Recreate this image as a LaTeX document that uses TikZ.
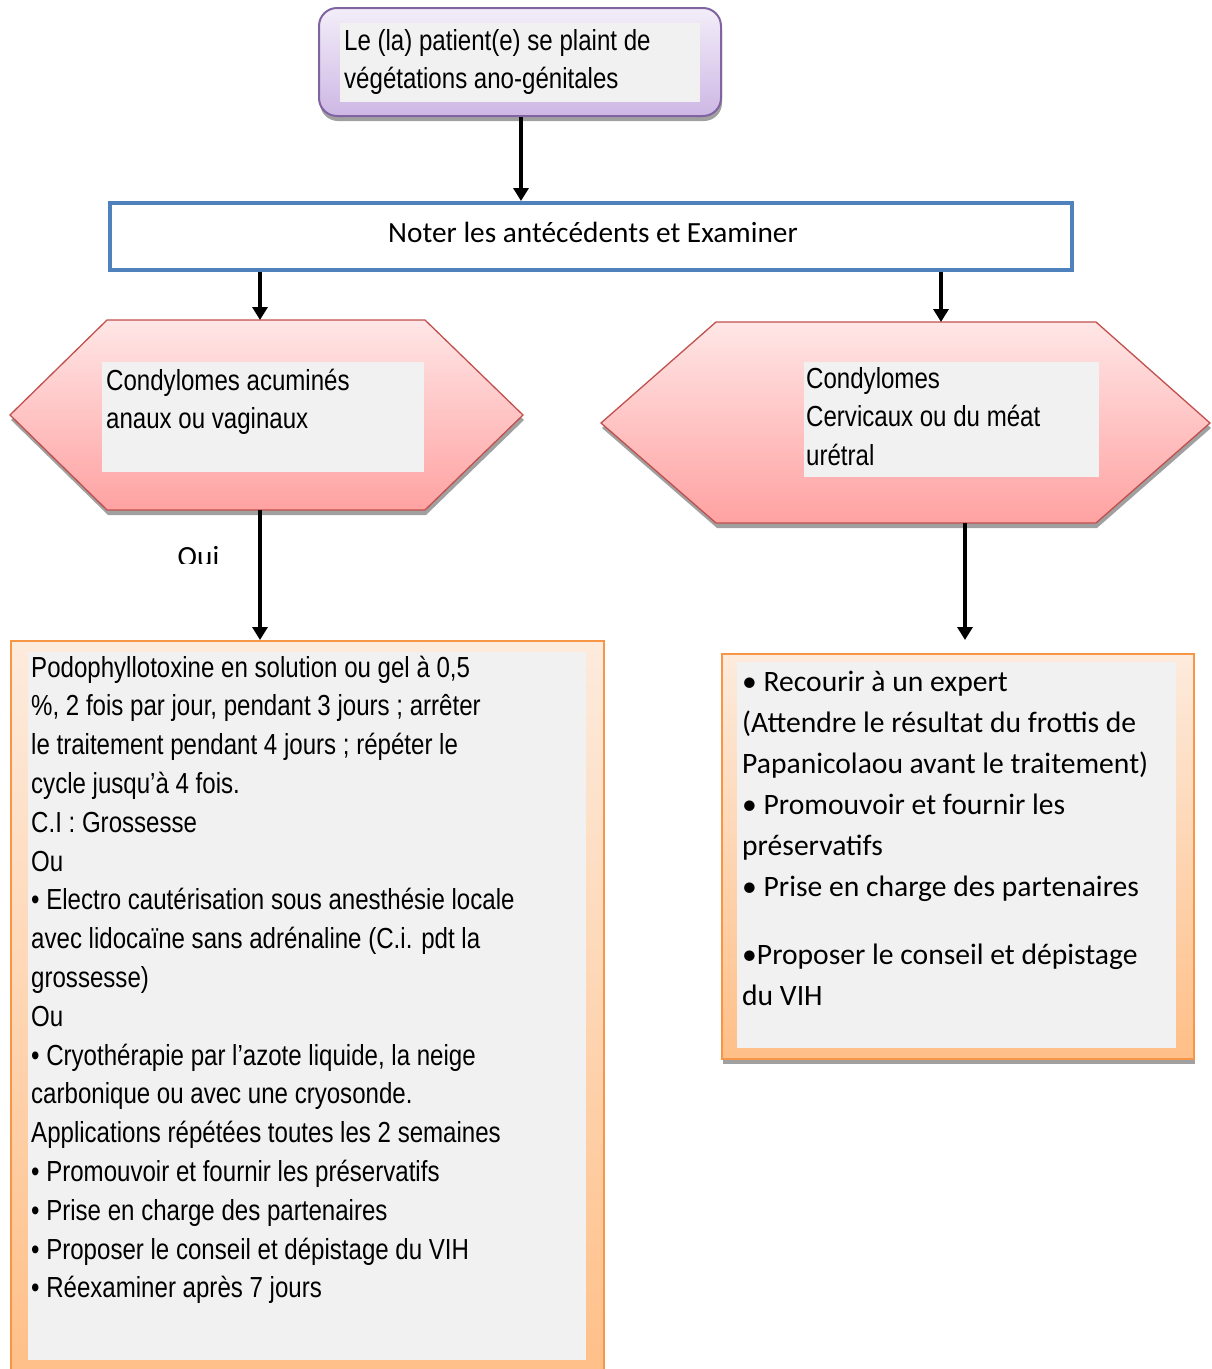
\documentclass[tikz,border=0pt]{standalone}
\usepackage{fontspec}
\setmainfont{Liberation Sans}
\newfontfamily\narrowfont[FakeStretch=0.83]{Liberation Sans}
\newfontfamily\calibrifont{Carlito}
\usetikzlibrary{arrows.meta,shadows}

\definecolor{lavtop}{HTML}{F3EEF9}
\definecolor{lavbot}{HTML}{CDB7E4}
\definecolor{purpleedge}{HTML}{8064A2}
\definecolor{pinktop}{HTML}{FFE6E6}
\definecolor{pinkbot}{HTML}{FFA2A2}
\definecolor{rededge}{HTML}{C0504D}
\definecolor{peachtop}{HTML}{FDEBDD}
\definecolor{peachbot}{HTML}{FFBF87}
\definecolor{orangeedge}{HTML}{F79646}
\definecolor{panelgray}{HTML}{F1F1F1}
\definecolor{blueedge}{HTML}{4F81BD}
\definecolor{shadowgray}{HTML}{A0A0A0}

\begin{document}
\begin{tikzpicture}[x=1pt,y=-1pt,
  conn/.style={line width=4pt,-{Triangle[width=15pt,length=13pt]}},
  shade/.style={drop shadow={shadow xshift=1pt,shadow yshift=-5pt,fill=shadowgray,opacity=1}},
  box/.style={inner sep=0,anchor=north west},
  startbox/.style={box,rounded corners=18pt,draw=purpleedge,line width=2pt,top color=lavtop,bottom color=lavbot,shade},
  exambox/.style={box,draw=blueedge,line width=3.5pt,fill=white},
  hexshape/.style={draw=rededge,line width=1.3pt,top color=pinktop,bottom color=pinkbot,shade},
  treatbox/.style={box,draw=orangeedge,line width=2pt,top color=peachtop,bottom color=peachbot},
  panel/.style={box,fill=panelgray,draw=none},
  narrowtext/.style={inner sep=0,anchor=north west,align=flush left,
    font=\narrowfont\fontsize{29}{38.8}\selectfont,execute at begin node=\strut},
  caltext/.style={inner sep=0,anchor=north west,align=flush left,
    font=\calibrifont\fontsize{29.6}{41}\selectfont,execute at begin node=\strut}
]
\useasboundingbox (0,0) rectangle (1211,1369);

% --- first step: the complaint
\node[startbox,minimum width=402pt,minimum height=108pt] (start) at (318,7) {};
\node[panel,minimum width=360pt,minimum height=79pt] (startpanel) at (340,23) {};
\node[narrowtext,text width=350pt] (starttext) at (344,22.8)
  {Le (la) patient(e) se plaint de\\végétations ano-génitales};

% --- history and examination
\node[exambox,minimum width=962pt,minimum height=67pt] (exam) at (108,201) {};
\node[anchor=base,inner sep=0,font=\calibrifont\fontsize{29.3}{41}\selectfont] (examtext) at (593,242)
  {Noter les antécédents et Examiner};

% --- left branch: anal or vaginal warts
\path[hexshape] (10,415) -- (107,320) -- (425,320) -- (523,415) -- (425,510) -- (107,510) -- cycle;
\coordinate (hexLtop) at (260,320);
\coordinate (hexLbot) at (260,510);
\node[panel,minimum width=322pt,minimum height=110pt] (hexLpanel) at (102,362) {};
\node[narrowtext,text width=310pt] (hexLtext) at (106,362.8)
  {Condylomes acuminés\\anaux ou vaginaux};

% --- right branch: cervical or meatal warts
\path[hexshape] (601,423) -- (716,322) -- (1096,322) -- (1210,423) -- (1096,523) -- (716,523) -- cycle;
\coordinate (hexRtop) at (941,322);
\coordinate (hexRbot) at (965,523);
\node[panel,minimum width=295pt,minimum height=115pt] (hexRpanel) at (804,362) {};
\node[narrowtext,text width=285pt] (hexRtext) at (806,360.8)
  {Condylomes\\Cervicaux ou du méat\\urétral};

% --- left treatment
\node[treatbox,shade,minimum width=593pt,minimum height=745pt] (treatL) at (10,640) {};
\node[panel,minimum width=558pt,minimum height=708pt] (treatLpanel) at (28,652) {};
\node[narrowtext,text width=550pt] (treatLtext) at (31,649.8)
  {Podophyllotoxine en solution ou gel à 0,5\\
   \%, 2 fois par jour, pendant 3 jours ; arrêter\\
   le traitement pendant 4 jours ; répéter le\\
   cycle jusqu’à 4 fois.\\
   C.I : Grossesse\\
   Ou\\
   • Electro cautérisation sous anesthésie locale\\
   avec lidocaïne sans adrénaline (C.i. pdt la\\
   grossesse)\\
   Ou\\
   • Cryothérapie par l’azote liquide, la neige\\
   carbonique ou avec une cryosonde.\\
   Applications répétées toutes les 2 semaines\\
   • Promouvoir et fournir les préservatifs\\
   • Prise en charge des partenaires\\
   • Proposer le conseil et dépistage du VIH\\
   • Réexaminer après 7 jours};

% --- right treatment
\node[treatbox,shade,minimum width=472pt,minimum height=405pt] (treatR) at (721,653) {};
\node[panel,minimum width=439pt,minimum height=386pt] (treatRpanel) at (737,662) {};
\coordinate (treatRin) at (965,640);
\node[caltext,text width=430pt] (treatRtext) at (742,662.3)
  {• Recourir à un expert\\
   (Attendre le résultat du frottis de\\
   Papanicolaou avant le traitement)\\
   • Promouvoir et fournir les\\
   préservatifs\\
   • Prise en charge des partenaires\\[27pt]
   •Proposer le conseil et dépistage\\
   du VIH};

% --- "Oui" label, cut off by the frame edge
\begin{scope}
  \clip (150,530) rectangle (250,563);
  \node[anchor=base,inner sep=0,font=\calibrifont\fontsize{29.3}{41}\selectfont] (yes) at (198.5,566) {Oui};
\end{scope}

% --- connectors
\draw[conn] (start.south -| 521,0) -- (exam.north -| 521,0);
\draw[conn] (exam.south -| hexLtop) -- (hexLtop);
\draw[conn] (exam.south -| hexRtop) -- (hexRtop);
\draw[conn] (hexLbot) -- (treatL.north -| hexLbot);
\draw[conn] (hexRbot) -- (treatRin);
\end{tikzpicture}
\end{document}
